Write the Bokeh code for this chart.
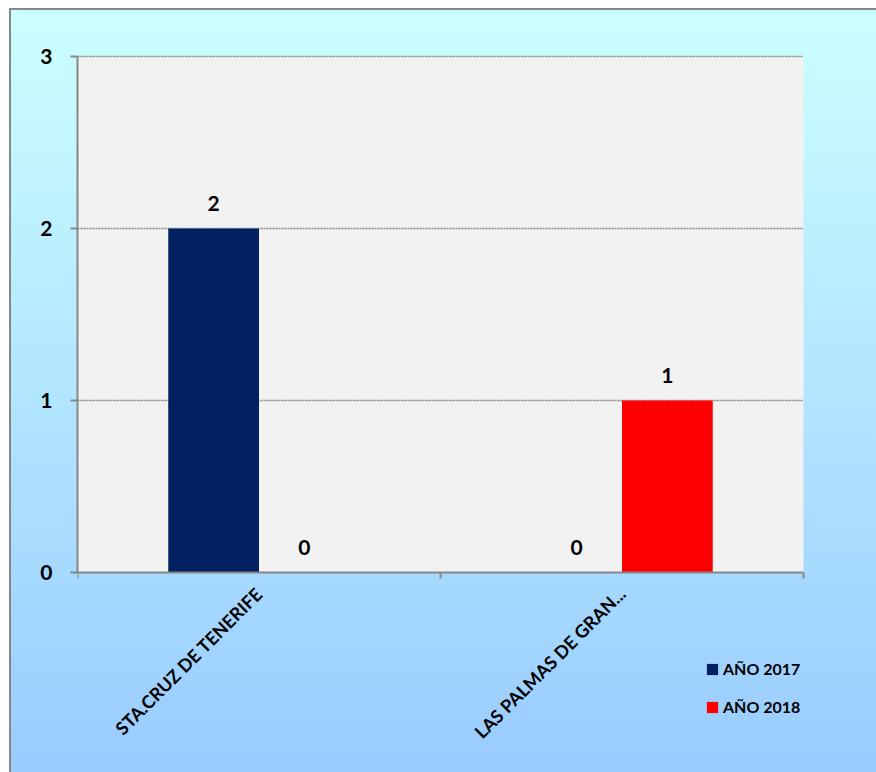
import math
from bokeh.plotting import figure
from bokeh.models import Range1d, FixedTicker, ColumnDataSource, Legend, LegendItem, BoxAnnotation
from bokeh.core.properties import value
from bokeh.embed import file_html
from bokeh.resources import INLINE

categories = ["STA.CRUZ DE TENERIFE", "LAS PALMAS DE GRAN..."]
series_names = ["AÑO 2017", "AÑO 2018"]
values_2017 = [2, 0]
values_2018 = [0, 1]
colors = ["#002060", "#ff0000"]
y_ticks = [0, 1, 2, 3]

FONT = "Lato"

# The frame spans the whole area right/below the plot (and a little above it) so that
# the category labels, the legend and the top grid line are not clipped;
# the plot area itself is drawn as a box.
n_cat = len(categories)
px_per_unit_y = 172.0
px_per_cat = 363.0
below_px = 200.0
right_px = 73.0
above_px = 6.0
p = figure(width=876, height=772, output_backend="svg", toolbar_location=None,
           x_range=Range1d(0, n_cat + right_px / px_per_cat),
           y_range=Range1d(-below_px / px_per_unit_y, max(y_ticks) + above_px / px_per_unit_y),
           min_border_left=77, min_border_right=0, min_border_top=56 - int(above_px),
           min_border_bottom=0)

p.border_fill_alpha = 0
p.background_fill_alpha = 0
p.outline_line_color = None
p.styles = {
    "background": (
        "linear-gradient(to bottom, #ffffff 0px, #ffffff 8px, transparent 8px),"
        "linear-gradient(to right, #ffffff 0px, #ffffff 9px, #868686 9px, #868686 11px, transparent 11px),"
        "linear-gradient(to bottom, #ffffff 0px, #ffffff 8px, #868686 8px, #868686 10px, #ccffff 10px, #99ccff 100%)"
    )
}

# plot area (gray)
p.add_layout(BoxAnnotation(left=0, right=n_cat, bottom=0, top=max(y_ticks),
                           fill_color="#f2f2f2", fill_alpha=1,
                           line_color=None, level="image"))

# horizontal dotted grid lines, limited to the plot area
grid = p.ygrid[0]
grid.ticker = FixedTicker(ticks=y_ticks[1:])
p.xgrid.grid_line_color = None
if "cross_bounds" in grid.properties():
    grid.cross_bounds = (0, n_cat)
    grid.grid_line_color = "#868686"
    grid.grid_line_dash = "2 1"
    grid.grid_line_width = 1.5
else:
    grid.grid_line_color = None
    gy = y_ticks[1:]
    p.segment(x0=[0] * len(gy), x1=[n_cat] * len(gy), y0=gy, y1=gy,
              line_color="#868686", line_dash="2 1", line_width=1.5, level="underlay")

width = 0.25
offsets = [-0.125, 0.125]
series = [values_2017, values_2018]
renderers = []
for name, vals, off, col in zip(series_names, series, offsets, colors):
    xs = [i + 0.5 + off for i in range(n_cat)]
    src = ColumnDataSource(dict(x=xs, top=vals, lab=[str(v) for v in vals]))
    r = p.vbar(x="x", top="top", bottom=0, width=width, source=src,
               fill_color=col, line_color=None)
    renderers.append(r)
    p.text(x="x", y="top", text="lab", source=src, text_align="center",
           text_baseline="alphabetic", y_offset=-25, text_font=value(FONT),
           text_font_style="bold", text_font_size="21px", text_color="#000000")

# y axis
p.yaxis.ticker = FixedTicker(ticks=y_ticks)
p.yaxis.bounds = (0, max(y_ticks))
p.yaxis.axis_line_color = "#868686"
p.yaxis.axis_line_width = 2
p.yaxis.major_tick_line_color = "#868686"
p.yaxis.major_tick_line_width = 2
p.yaxis.major_tick_out = 7
p.yaxis.major_tick_in = 0
p.yaxis.minor_tick_line_color = None
p.yaxis.major_label_standoff = 18
p.yaxis.major_label_text_font = FONT
p.yaxis.major_label_text_font_style = "bold"
p.yaxis.major_label_text_font_size = "21px"
p.yaxis.major_label_text_color = "#000000"

# x axis, placed at value 0
centers = [i + 0.5 for i in range(n_cat)]
bounds = [i for i in range(n_cat + 1)]
p.xaxis.fixed_location = 0
p.xaxis.bounds = (0, n_cat)
p.xaxis.ticker = FixedTicker(ticks=centers, minor_ticks=bounds)
p.xaxis.major_label_overrides = {c: lab for c, lab in zip(centers, categories)}
p.xaxis.major_label_orientation = math.pi / 4
p.xaxis.axis_line_color = "#868686"
p.xaxis.axis_line_width = 2
p.xaxis.major_tick_line_color = None
p.xaxis.major_tick_out = 0
p.xaxis.major_tick_in = 0
p.xaxis.minor_tick_line_color = "#868686"
p.xaxis.minor_tick_line_width = 2
p.xaxis.minor_tick_out = 6
p.xaxis.minor_tick_in = 0
p.xaxis.major_label_standoff = 12
p.xaxis.major_label_text_font = FONT
p.xaxis.major_label_text_font_style = "bold"
p.xaxis.major_label_text_font_size = "18px"
p.xaxis.major_label_text_color = "#000000"

legend = Legend(items=[LegendItem(label=n, renderers=[r]) for n, r in zip(series_names, renderers)],
                location=(628, 56), orientation="vertical",
                glyph_width=14, glyph_height=14, label_height=14, spacing=19,
                label_standoff=4, padding=0, margin=0,
                border_line_color=None, background_fill_alpha=0,
                label_text_font=FONT, label_text_font_style="bold",
                label_text_font_size="16px", label_text_color="#000000")
p.add_layout(legend, "center")

open("out.html", "w").write(file_html(p, INLINE))
